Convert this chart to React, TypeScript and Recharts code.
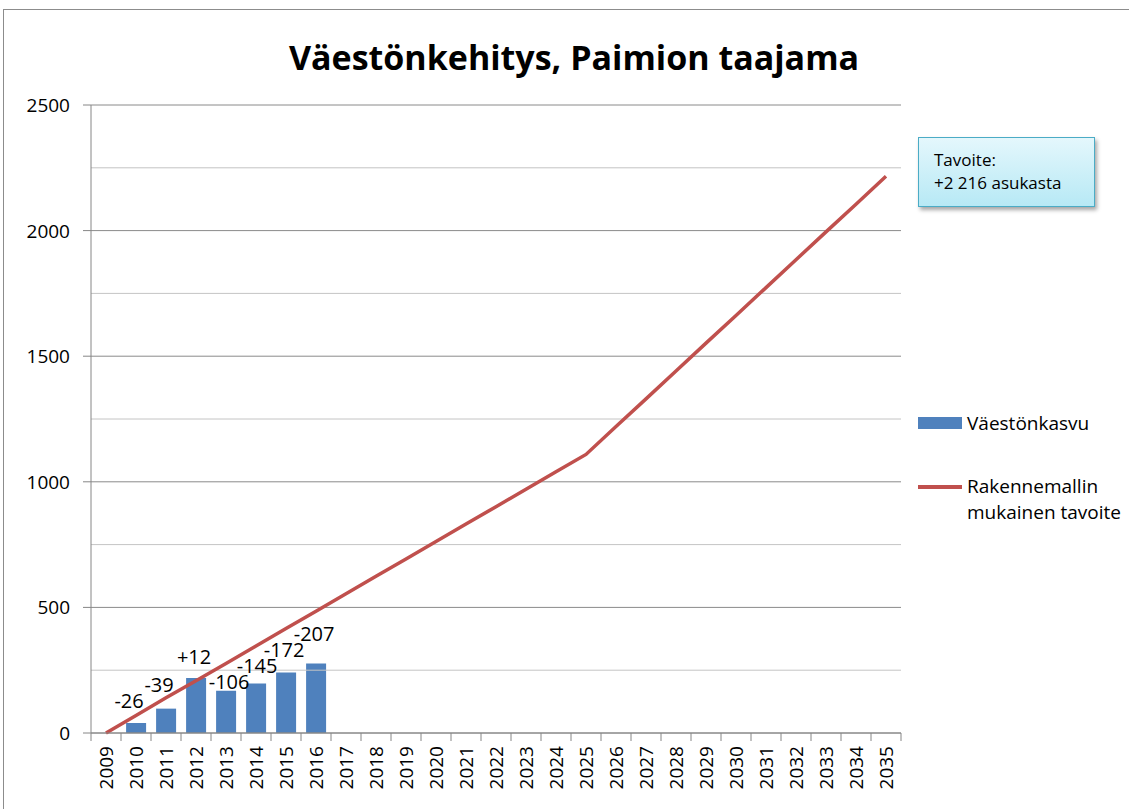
import React from "react";
import {
  ComposedChart,
  Bar,
  Line,
  XAxis,
  YAxis,
  ReferenceLine,
  LabelList,
} from "recharts";

const years = [
  "2009", "2010", "2011", "2012", "2013", "2014", "2015", "2016", "2017",
  "2018", "2019", "2020", "2021", "2022", "2023", "2024", "2025", "2026",
  "2027", "2028", "2029", "2030", "2031", "2032", "2033", "2034", "2035",
];
const growth: (number | null)[] = [
  null, 40, 97, 219, 168, 197, 241, 277, null, null, null, null, null, null,
  null, null, null, null, null, null, null, null, null, null, null, null, null,
];
const growthLabels: (string | null)[] = [
  null, "-26", "-39", "+12", "-106", "-145", "-172", "-207", null, null, null,
  null, null, null, null, null, null, null, null, null, null, null, null, null,
  null, null, null,
];
const target = [
  0, 70, 140, 208, 277, 346, 416, 485, 554, 624, 693, 762, 832, 901, 970,
  1040, 1109, 1220, 1330, 1441, 1552, 1662, 1773, 1884, 1995, 2105, 2216,
];
const yTicks = [0, 250, 500, 750, 1000, 1250, 1500, 1750, 2000, 2250, 2500];
const title = "Väestönkehitys, Paimion taajama";
const barName = "Väestönkasvu";
const lineNameLines = ["Rakennemallin", "mukainen tavoite"];
const noteLines = ["Tavoite:", "+2 216 asukasta"];

// Style: hand-placed data-label nudges (px, relative to each bar's top centre), by category index
const labelNudgeX = [0, -7, -7, -2, 3, 1, -2, -2];
const labelLift = [0, 22, 24, 21, 9, 18, 23, 30];

const data = years.map((y, i) => ({
  year: y,
  growth: growth[i],
  label: growthLabels[i],
  target: target[i],
}));

const W = 1129;
const H = 809;
const PLOT_LEFT = 91;
const PLOT_RIGHT = 901;
const PLOT_TOP = 105;
const PLOT_BOTTOM = 733;
const BAND = (PLOT_RIGHT - PLOT_LEFT) / years.length;
const FONT = "'Open Sans', 'Noto Sans', sans-serif";
const AXIS_COLOR = "#868686";
const BAR_COLOR = "#4f81bd";
const LINE_COLOR = "#c0504d";

const XTick = (props: any) => {
  const { payload, index } = props;
  const cx = payload.coordinate;
  const isLast = index === years.length - 1;
  const ty = PLOT_BOTTOM + 13;
  return (
    <g>
      <line x1={cx - BAND / 2} x2={cx - BAND / 2} y1={PLOT_BOTTOM} y2={PLOT_BOTTOM + 8} stroke={AXIS_COLOR} />
      {isLast && (
        <line x1={cx + BAND / 2} x2={cx + BAND / 2} y1={PLOT_BOTTOM} y2={PLOT_BOTTOM + 8} stroke={AXIS_COLOR} />
      )}
      <text
        x={cx}
        y={ty}
        transform={`rotate(-90 ${cx} ${ty})`}
        textAnchor="end"
        dominantBaseline="central"
        fontSize={19}
        fontFamily={FONT}
        fill="#000"
      >
        {payload.value}
      </text>
    </g>
  );
};

const YTick = (props: any) => {
  const { payload } = props;
  const v = payload.value;
  const cy = payload.coordinate;
  if (v % 500 !== 0) return <g />;
  return (
    <g>
      <line x1={PLOT_LEFT - 8} x2={PLOT_LEFT} y1={cy} y2={cy} stroke={AXIS_COLOR} />
      <text
        x={PLOT_LEFT - 21}
        y={cy}
        textAnchor="end"
        dominantBaseline="central"
        fontSize={19}
        fontFamily={FONT}
        fill="#000"
      >
        {v}
      </text>
    </g>
  );
};

const BarLabel = (props: any) => {
  const { x, y, width, value } = props;
  if (value == null) return null;
  const i = growthLabels.indexOf(value);
  const dx = labelNudgeX[i] ?? 0;
  const lift = labelLift[i] ?? 20;
  return (
    <text
      x={x + width / 2 + dx}
      y={y - lift}
      textAnchor="middle"
      dominantBaseline="central"
      fontSize={20}
      fontFamily={FONT}
      fill="#000"
    >
      {value}
    </text>
  );
};

export default function App() {
  return (
    <div
      style={{
        position: "absolute",
        left: 0,
        top: 0,
        width: W,
        height: H,
        overflow: "hidden",
        background: "#fff",
      }}
    >
      <div
        style={{
          position: "absolute",
          left: 3,
          top: 9,
          width: W + 20,
          height: H + 20,
          borderLeft: "1px solid #8c8c8c",
          borderTop: "1px solid #8c8c8c",
        }}
      />
      <div
        style={{
          position: "absolute",
          left: 0,
          top: 33,
          width: 1148,
          textAlign: "center",
          fontFamily: FONT,
          fontWeight: 700,
          fontSize: 34,
          lineHeight: "48px",
          color: "#000",
        }}
      >
        {title}
      </div>
      <ComposedChart
        width={W}
        height={H}
        data={data}
        margin={{ top: PLOT_TOP, right: W - PLOT_RIGHT, bottom: 0, left: 0 }}
        barCategoryGap="17%"
        style={{ position: "absolute", left: 0, top: 0 }}
      >
        {yTicks.map((v) => (
          <ReferenceLine
            key={v}
            y={v}
            stroke={v % 500 === 0 ? "#8a8a8a" : "#c4c4c4"}
            strokeWidth={1}
          />
        ))}
        <XAxis
          dataKey="year"
          interval={0}
          height={H - PLOT_BOTTOM}
          tickLine={false}
          axisLine={{ stroke: AXIS_COLOR }}
          tick={<XTick />}
        />
        <YAxis
          width={PLOT_LEFT}
          domain={[0, 2500]}
          ticks={yTicks}
          interval={0}
          tickLine={false}
          axisLine={{ stroke: AXIS_COLOR }}
          tick={<YTick />}
        />
        <Bar dataKey="growth" name={barName} fill={BAR_COLOR} isAnimationActive={false}>
          <LabelList dataKey="label" content={<BarLabel />} />
        </Bar>
        <Line
          type="linear"
          dataKey="target"
          name={lineNameLines.join(" ")}
          stroke={LINE_COLOR}
          strokeWidth={3.5}
          dot={false}
          isAnimationActive={false}
        />
      </ComposedChart>
      <div
        style={{
          position: "absolute",
          left: 918,
          top: 409,
          width: 211,
          fontFamily: FONT,
          fontSize: 19,
          color: "#000",
        }}
      >
        <div style={{ display: "flex", alignItems: "center", height: 28 }}>
          <div style={{ width: 44, height: 12, background: BAR_COLOR, marginRight: 5, flex: "none" }} />
          <span style={{ whiteSpace: "nowrap" }}>{barName}</span>
        </div>
        <div style={{ display: "flex", alignItems: "flex-start", marginTop: 36 }}>
          <div style={{ width: 44, height: 3.5, background: LINE_COLOR, marginRight: 5, marginTop: 12, flex: "none" }} />
          <span style={{ lineHeight: "26px", whiteSpace: "nowrap" }}>
            {lineNameLines[0]}
            <br />
            {lineNameLines[1]}
          </span>
        </div>
      </div>
      <div
        style={{
          position: "absolute",
          left: 918,
          top: 137,
          width: 177,
          height: 70,
          boxSizing: "border-box",
          border: "1.5px solid #4bacc6",
          background: "linear-gradient(#e4f7fc, #b7e9f5)",
          boxShadow: "2px 3px 4px rgba(0,0,0,0.35)",
          fontFamily: FONT,
          fontSize: 17,
          color: "#000",
          padding: "10px 0 0 15px",
          lineHeight: "23px",
        }}
      >
        <div style={{ whiteSpace: "nowrap" }}>{noteLines[0]}</div>
        <div style={{ whiteSpace: "nowrap" }}>{noteLines[1]}</div>
      </div>
    </div>
  );
}
